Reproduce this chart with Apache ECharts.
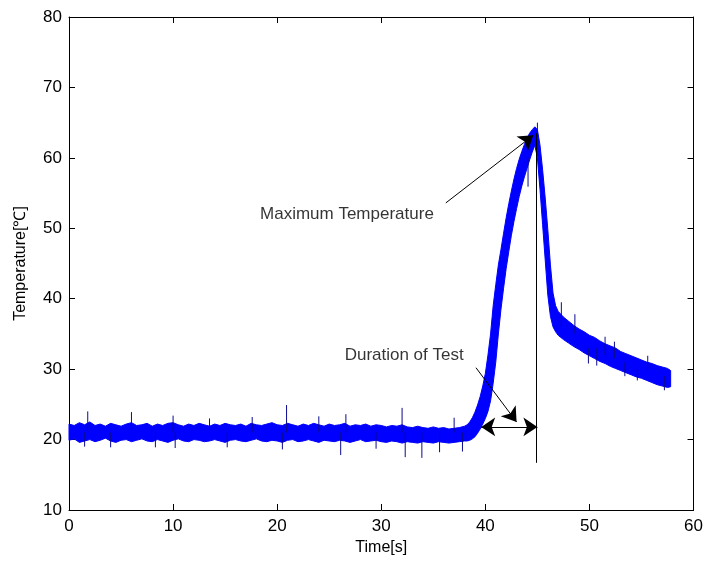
<!DOCTYPE html>
<html>
<head>
<meta charset="utf-8">
<script src="https://cdn.jsdelivr.net/npm/echarts@6/dist/echarts.min.js"></script>
<style>
  html, body { margin: 0; padding: 0; background: #fff; }
  #chart { width: 706px; height: 563px; }
</style>
</head>
<body>
<div id="chart"></div>
<script>
// time axis of the trace [s]
const times = [
  0, 0.5, 1, 1.5, 2, 2.5, 3, 3.5, 4, 4.5, 5, 5.5, 6, 6.5, 7, 7.5, 8, 8.5, 9, 9.5,
  10, 10.5, 11, 11.5, 12, 12.5, 13, 13.5, 14, 14.5, 15, 15.5, 16, 16.5, 17, 17.5, 18, 18.5, 19, 19.5,
  20, 20.5, 21, 21.5, 22, 22.5, 23, 23.5, 24, 24.5, 25, 25.5, 26, 26.5, 27, 27.5, 28, 28.5, 29, 29.5,
  30, 30.5, 31, 31.5, 32, 32.5, 33, 33.5, 34, 34.5, 35, 35.5, 36, 36.5, 37, 37.5, 38,
  38.25, 38.5, 38.75, 39, 39.25, 39.5, 39.75, 40, 40.25, 40.5, 40.75, 41, 41.25, 41.5, 41.75,
  42, 42.25, 42.5, 42.75, 43, 43.25, 43.5, 43.75, 44, 44.25, 44.5, 44.75, 45, 45.25, 45.5, 45.75,
  46, 46.25, 46.5, 46.75, 47,
  47.5, 48, 48.5, 49, 49.5, 50, 50.5, 51, 51.5, 52, 52.5, 53, 53.5, 54, 54.5, 55, 55.5, 56, 56.5,
  57, 57.5, 57.8
];

// lower edge of the noisy band [degC]
const lowerEdge = [
  19.9, 20.1, 19.6, 19.8, 20.0, 19.7, 19.9, 20.2, 19.8, 19.6, 19.9, 20.0, 19.7, 19.9, 20.1, 19.8, 19.7, 20.0, 19.8, 19.6,
  19.9, 20.1, 19.8, 19.7, 20.0, 19.9, 19.7, 19.8, 20.0, 19.8, 19.6, 19.9, 20.0, 19.8, 19.7, 19.9, 20.1, 19.8, 19.7, 19.9,
  19.8, 19.6, 19.9, 20.0, 19.7, 19.8, 20.0, 19.8, 19.6, 19.9, 19.8, 19.7, 19.9, 19.8, 19.6, 19.8, 20.0, 19.7, 19.8, 19.9,
  19.7, 19.6, 19.8, 19.7, 19.5, 19.7, 19.6, 19.5, 19.7, 19.6, 19.5, 19.7, 19.6, 19.5, 19.6, 19.7, 19.8,
  19.8, 19.9, 20.1, 20.4, 20.9, 21.5, 22.2, 23.0, 24.0, 25.5, 28.0, 31.0, 35.0, 38.5, 41.5,
  44.3, 46.7, 49.0, 51.0, 52.8, 54.5, 56.0, 57.3, 58.5, 59.7, 60.8, 61.8, 60.0, 55.5, 50.5, 45.5,
  40.5, 37.5, 36.0, 35.3, 34.8,
  34.2, 33.7, 33.2, 32.8, 32.3, 31.9, 31.5, 31.1, 30.8, 30.4, 30.1, 29.8, 29.5, 29.2, 28.9, 28.7, 28.4, 28.1, 27.8,
  27.6, 27.4, 27.5
];

// upper edge of the noisy band [degC]
const upperEdge = [
  22.2, 22.0, 22.4, 22.1, 22.5, 22.0, 22.2, 21.9, 22.3, 22.1, 21.9, 22.2, 22.4, 22.0, 22.1, 22.3, 21.9, 22.2, 22.0, 22.3,
  22.4, 22.1, 21.9, 22.2, 22.0, 22.3, 22.1, 21.9, 22.2, 22.0, 22.3, 22.1, 22.0, 22.2, 21.9, 22.3, 22.1, 22.0, 22.2, 22.4,
  22.1, 22.0, 22.3, 22.1, 21.9, 22.2, 22.0, 22.3, 22.1, 21.9, 22.2, 22.0, 22.1, 22.3, 21.9, 22.1, 22.0, 22.2, 21.9, 22.1,
  22.0, 21.8, 22.0, 21.9, 22.1, 21.8, 21.7, 21.9, 21.7, 21.6, 21.8, 21.6, 21.7, 21.5, 21.6, 21.7, 21.9,
  22.1, 22.5, 23.1, 23.9, 24.9, 26.1, 27.6, 29.4, 32.0, 35.0, 39.0, 42.0, 44.8, 47.0, 49.3,
  51.5, 53.5, 55.3, 57.0, 58.5, 59.8, 60.9, 61.9, 62.8, 63.5, 64.0, 64.4, 64.0, 61.8, 58.3, 54.3,
  49.8, 44.8, 40.8, 39.0, 38.2,
  37.4, 36.8, 36.2, 35.7, 35.3, 34.8, 34.5, 34.0, 33.6, 33.3, 33.0, 32.5, 32.2, 31.9, 31.6, 31.3, 31.0, 30.8, 30.5,
  30.3, 30.1, 29.8
];

// isolated noise spikes: time, from, to
const spikeT =    [1.5, 1.8, 4.0, 6.0, 8.3, 10.0, 10.2, 13.5, 15.2, 17.6, 20.5, 20.9, 24.0, 26.1, 26.6, 29.5, 32.0, 32.3, 33.9, 35.6, 37.0, 37.8, 44.1, 45.0, 47.3, 48.6, 49.9, 50.7, 51.5, 52.4, 53.4, 54.6, 55.6, 57.2];
const spikeFrom = [21, 21, 21, 21, 21, 21, 21, 21, 21, 21, 21, 21, 21, 21, 21, 21, 21, 21, 21, 21, 21, 21, 60, 63, 36, 35, 33, 33, 32, 31.5, 31, 30, 29.8, 29];
const spikeTo =   [19.0, 24.0, 18.9, 23.9, 18.9, 23.4, 18.8, 23.0, 18.9, 23.2, 18.6, 24.9, 23.3, 17.8, 23.6, 18.7, 24.5, 17.5, 17.4, 18.2, 23.1, 18.3, 55.9, 65.0, 39.5, 37.8, 30.8, 30.5, 34.6, 33.9, 29.0, 28.4, 31.9, 27.0];

// annotations
const noteText = ['Maximum Temperature', 'Duration of Test'];
const noteX = [26.7, 32.2];
const noteY = [52.0, 32.0];
const arrowFrom = [[36.2, 53.6], [39.1, 30.2]];
const arrowTo = [[44.6, 63.2], [43.0, 22.5]];
const peakLine = [[44.9, 63.5], [44.9, 16.7]];
const durationSpan = [[39.6, 21.8], [45.0, 21.8]];

const xTicks = { min: 0, max: 60, interval: 10 };
const yTicks = { min: 10, max: 80, interval: 10 };

const chart = echarts.init(document.getElementById('chart'));

const FONT = 'Liberation Sans';
const BLUE = '#0000ff';
const TEXT = '#000';

const spikeData = spikeT.map((t, i) => [t, spikeFrom[i], spikeTo[i]]);

const axisCommon = {
  type: 'value',
  axisLine: { show: true, onZero: false, lineStyle: { color: '#000', width: 1 } },
  axisTick: { show: true, inside: true, length: 6, lineStyle: { color: '#000' } },
  splitLine: { show: false },
};

const blackLine = { color: '#000', width: 1, type: 'solid' };

const option = {
  animation: false,
  backgroundColor: '#fff',
  grid: { left: 69, right: 10, top: 17, bottom: 53 },
  xAxis: [
    {
      ...axisCommon, ...xTicks, position: 'bottom',
      name: 'Time[s]', nameLocation: 'middle', nameGap: 30,
      nameTextStyle: { fontFamily: FONT, fontSize: 16, color: TEXT },
      axisLabel: { fontFamily: FONT, fontSize: 17, color: TEXT, margin: 8 },
    },
    {
      ...axisCommon, ...xTicks, position: 'top',
      axisLabel: { show: false },
    },
  ],
  yAxis: [
    {
      ...axisCommon, ...yTicks, position: 'left',
      name: 'Temperature[℃]', nameLocation: 'middle', nameGap: 40, nameRotate: 90,
      nameTextStyle: { fontFamily: FONT, fontSize: 16, color: TEXT },
      axisLabel: { fontFamily: FONT, fontSize: 17, color: TEXT, margin: 7 },
    },
    {
      ...axisCommon, ...yTicks, position: 'right',
      axisLabel: { show: false },
    },
  ],
  series: [
    {
      // the noisy trace as one filled band: upper edge forward, lower edge back
      type: 'custom',
      data: [[times[0], lowerEdge[0]]],
      z: 2,
      renderItem: (params, api) => {
        const top = times.map((t, i) => api.coord([t, upperEdge[i]]));
        const bottom = times.map((t, i) => api.coord([t, lowerEdge[i]])).reverse();
        return {
          type: 'polygon',
          shape: { points: top.concat(bottom) },
          style: { fill: BLUE, stroke: BLUE, lineWidth: 1 },
        };
      },
    },
    {
      type: 'custom',
      data: spikeData,
      encode: { x: 0, y: [1, 2] },
      z: 3,
      renderItem: (params, api) => {
        const a = api.coord([api.value(0), api.value(1)]);
        const b = api.coord([api.value(0), api.value(2)]);
        return {
          type: 'line',
          shape: { x1: a[0], y1: a[1], x2: b[0], y2: b[1] },
          style: { stroke: '#0a0a90', lineWidth: 1 },
        };
      },
    },
    {
      type: 'scatter',
      data: noteText.map((s, i) => [noteX[i], noteY[i]]),
      symbolSize: 0,
      z: 5,
      label: {
        show: true,
        position: 'inside',
        fontFamily: FONT,
        fontSize: 17,
        color: TEXT,
        formatter: (p) => noteText[p.dataIndex],
      },
      markLine: {
        silent: true,
        animation: false,
        label: { show: false },
        lineStyle: blackLine,
        symbolSize: 14,
        data: [
          [{ coord: arrowFrom[0], symbol: 'none' }, { coord: arrowTo[0], symbol: 'arrow' }],
          [{ coord: arrowFrom[1], symbol: 'none' }, { coord: arrowTo[1], symbol: 'arrow' }],
          [{ coord: peakLine[0], symbol: 'none' }, { coord: peakLine[1], symbol: 'none' }],
          [{ coord: durationSpan[0], symbol: 'arrow' }, { coord: durationSpan[1], symbol: 'arrow' }],
        ],
      },
    },
  ],
};

chart.setOption(option);
</script>
</body>
</html>
